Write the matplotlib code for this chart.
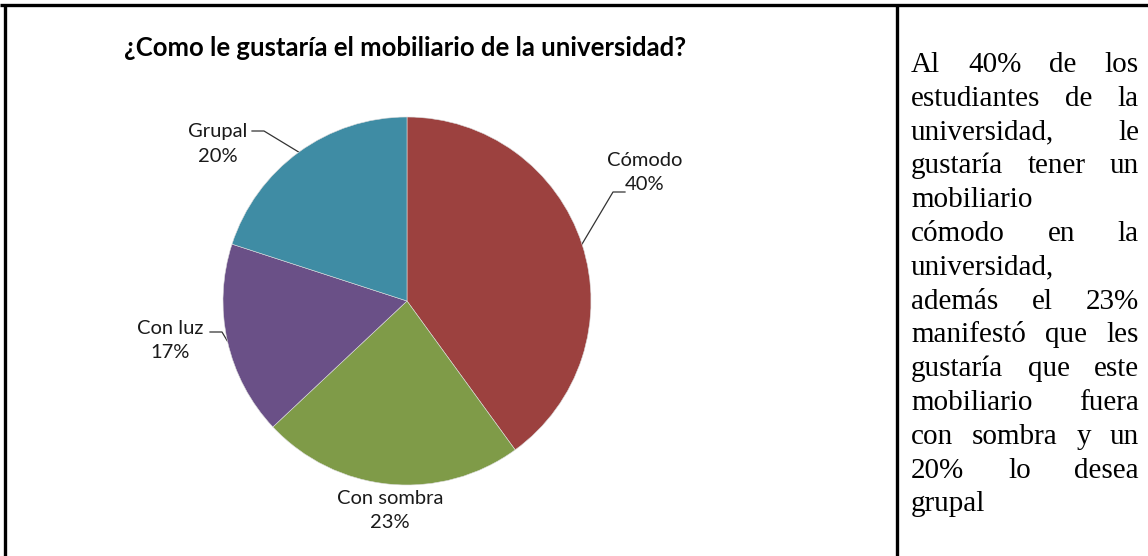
import matplotlib
matplotlib.use("Agg")
import matplotlib.pyplot as plt
import numpy as np

# encuesta: mobiliario deseado
categorias = ["Cómodo", "Con sombra", "Con luz", "Grupal"]
porcentajes = [40, 23, 17, 20]
colores = ["#9C413F", "#7F9B48", "#6A5087", "#3F8CA4"]
titulo = "¿Como le gustaría el mobiliario de la universidad?"

# texto de la columna derecha, ya partido por renglones
renglones = [
    "Al 40% de los",
    "estudiantes de la",
    "universidad, le",
    "gustaría tener un",
    "mobiliario",
    "cómodo en la",
    "universidad,",
    "además el 23%",
    "manifestó que les",
    "gustaría que este",
    "mobiliario fuera",
    "con sombra y un",
    "20% lo desea",
    "grupal",
]
sin_justificar = {"mobiliario", "universidad,", "grupal"}

W, H = 1148, 556
fig = plt.figure(figsize=(W / 100, H / 100), dpi=100)

bg = fig.add_axes([0, 0, 1, 1])
bg.set_xlim(0, W)
bg.set_ylim(H, 0)
bg.axis("off")

# bordes de la tabla
bg.plot([0, W], [5, 5], color="black", lw=2.4, solid_capstyle="butt")
bg.plot([5, 5], [5, H], color="black", lw=2.4, solid_capstyle="butt")
bg.plot([897, 897], [5, H], color="black", lw=2.4, solid_capstyle="butt")

# pastel
cx, cy, r = 407, 301, 184
pie_ax = fig.add_axes([(cx - r) / W, (H - cy - r) / H, 2 * r / W, 2 * r / H])
wedges, _ = pie_ax.pie(porcentajes, colors=colores, startangle=90, counterclock=False,
                       radius=1, wedgeprops=dict(linewidth=0.4, edgecolor="#dddddd"))
pie_ax.set_xlim(-1, 1)
pie_ax.set_ylim(-1, 1)
pie_ax.axis("off")

bg.text(405, 48, titulo, ha="center", va="center", fontsize=18.5,
        fontweight="bold", family="Lato", color="black")

# etiquetas de datos: (x, y) del texto y codo de la linea guia
etiquetas = {
    "Cómodo": ((645, 172), [(625, 192), (613, 192)]),
    "Con sombra": ((390, 510), None),
    "Con luz": ((170, 341), [(210, 332), (222, 332)]),
    "Grupal": ((218, 144), [(252, 131), (264, 131)]),
}
for w, cat, pct in zip(wedges, categorias, porcentajes):
    (tx, ty), codo = etiquetas[cat]
    bg.text(tx, ty, f"{cat}\n{pct}%", ha="center", va="center", fontsize=14.5,
            family="Lato", color="#1a1a1a", linespacing=1.5)
    if codo:
        ang = np.deg2rad((w.theta1 + w.theta2) / 2)
        ex, ey = cx + r * np.cos(ang), cy - r * np.sin(ang)
        xs = [p[0] for p in codo] + [ex]
        ys = [p[1] for p in codo] + [ey]
        bg.plot(xs, ys, color="#333333", lw=0.9)

# texto justificado
renderer = fig.canvas.get_renderer()
izq, der = 911, 1139
y0, paso = 72, 33.8
tam = 21
for i, linea in enumerate(renglones):
    y = y0 + i * paso
    palabras = linea.split()
    if linea in sin_justificar or len(palabras) == 1:
        bg.text(izq, y, linea, ha="left", va="baseline", fontsize=tam,
                family="Liberation Serif")
        continue
    objs = [bg.text(0, y, p, ha="left", va="baseline", fontsize=tam,
                    family="Liberation Serif") for p in palabras]
    anchos = [t.get_window_extent(renderer).width for t in objs]
    hueco = (der - izq - sum(anchos)) / (len(palabras) - 1)
    x = izq
    for t, a in zip(objs, anchos):
        t.set_x(x)
        x += a + hueco

fig.savefig("out.png", dpi=100)
